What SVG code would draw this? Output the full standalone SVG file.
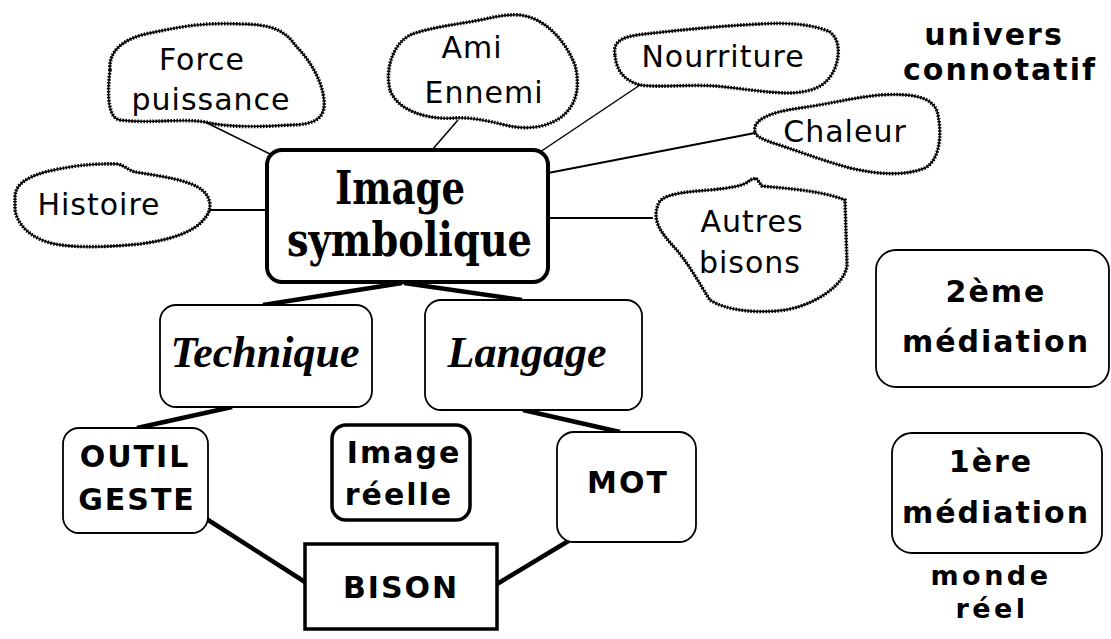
<svg xmlns="http://www.w3.org/2000/svg" width="1111" height="639" viewBox="0 0 1111 639">
<style>
.bg{fill:#fff}
.cloud-base{fill:#fff;stroke:#000;stroke-width:1.4}
.cloud-fuzz{fill:none;stroke:#000;stroke-width:3.6;stroke-dasharray:1.5 1.5}
.box{fill:#fff;stroke:#000;stroke-width:1.8}
.thick{fill:#fff;stroke:#000;stroke-width:4}
.mid{fill:#fff;stroke:#000;stroke-width:3.5}
.thin{fill:none;stroke:#000;stroke-width:1.5}
.line2{fill:none;stroke:#000;stroke-width:2}
.heavy{fill:none;stroke:#000;stroke-width:4.5;stroke-linecap:butt}
.ct{font-family:"DejaVu Sans","Liberation Sans",sans-serif;font-size:30px;letter-spacing:1px;text-anchor:middle;fill:#000}
.bt{font-family:"DejaVu Sans","Liberation Sans",sans-serif;font-weight:bold;font-size:30px;letter-spacing:2px;text-anchor:middle;fill:#000}
.bs{font-family:"DejaVu Sans","Liberation Sans",sans-serif;font-weight:bold;font-size:27px;letter-spacing:3.5px;text-anchor:middle;fill:#000}
.st{font-family:"Liberation Serif","DejaVu Serif",serif;font-style:italic;font-weight:bold;font-size:44px;text-anchor:middle;fill:#000}
.mt{font-family:"DejaVu Serif","Liberation Serif",serif;font-weight:bold;font-size:46px;fill:#000}
</style>
<rect class="bg" x="0" y="0" width="1111" height="639"/>

<g id="connectors">
<line class="line2" x1="208" y1="210" x2="267" y2="210"/>
<line class="thin" x1="205" y1="122" x2="272" y2="155"/>
<line class="thin" x1="458" y1="120" x2="432" y2="150"/>
<line class="thin" x1="640" y1="85" x2="540" y2="152"/>
<line class="line2" x1="755" y1="133" x2="548" y2="173"/>
<line class="line2" x1="548" y1="218" x2="653" y2="218"/>
<line class="heavy" x1="402" y1="283" x2="263" y2="305"/>
<line class="heavy" x1="404" y1="283" x2="522" y2="300"/>
<line class="heavy" x1="232" y1="407" x2="137" y2="428"/>
<line class="heavy" x1="523" y1="410" x2="620" y2="432"/>
<line class="heavy" x1="205" y1="518" x2="305" y2="582"/>
<line class="heavy" x1="575" y1="537" x2="497" y2="584"/>
</g>

<g id="force">
<path class="cloud-base" d="M110,70 C108,50 125,38 150,33 C175,28 200,22 240,24 C270,24 285,30 295,45 C310,60 322,80 324,100 C326,118 315,125 290,125 C260,127 230,128 205,122 C180,118 150,124 120,120 C108,118 107,95 110,70 Z"/>
<path class="cloud-fuzz" d="M110,70 C108,50 125,38 150,33 C175,28 200,22 240,24 C270,24 285,30 295,45 C310,60 322,80 324,100 C326,118 315,125 290,125 C260,127 230,128 205,122 C180,118 150,124 120,120 C108,118 107,95 110,70 Z"/>
<text class="ct" x="202" y="70">Force</text>
<text class="ct" x="211" y="110">puissance</text>
</g>

<g id="histoire">
<path class="cloud-base" d="M15,200 C14,185 25,178 45,172 C65,167 90,163 118,164 C125,166 128,170 135,172 C160,176 190,180 202,190 C212,198 212,210 205,218 C195,232 170,240 140,244 C110,247 75,248 55,244 C35,240 18,228 15,210 Z"/>
<path class="cloud-fuzz" d="M15,200 C14,185 25,178 45,172 C65,167 90,163 118,164 C125,166 128,170 135,172 C160,176 190,180 202,190 C212,198 212,210 205,218 C195,232 170,240 140,244 C110,247 75,248 55,244 C35,240 18,228 15,210 Z"/>
<text class="ct" x="99" y="215">Histoire</text>
</g>

<g id="ami">
<path class="cloud-base" d="M390,90 C385,70 392,45 410,35 C430,27 455,25 480,20 C495,17 505,14 520,15 C545,18 565,40 575,65 C580,85 578,105 560,118 C545,128 525,130 505,125 C485,120 470,117 455,118 C430,120 398,112 390,90 Z"/>
<path class="cloud-fuzz" d="M390,90 C385,70 392,45 410,35 C430,27 455,25 480,20 C495,17 505,14 520,15 C545,18 565,40 575,65 C580,85 578,105 560,118 C545,128 525,130 505,125 C485,120 470,117 455,118 C430,120 398,112 390,90 Z"/>
<text class="ct" x="472" y="58">Ami</text>
<text class="ct" x="484" y="103">Ennemi</text>
</g>

<g id="nourriture">
<path class="cloud-base" d="M615,55 C612,40 625,36 645,34 C680,30 720,26 760,24 C790,22 815,25 830,32 C840,40 840,55 835,68 C828,85 815,92 790,93 C765,93 740,88 715,86 C690,84 660,88 640,85 C622,80 616,68 615,55 Z"/>
<path class="cloud-fuzz" d="M615,55 C612,40 625,36 645,34 C680,30 720,26 760,24 C790,22 815,25 830,32 C840,40 840,55 835,68 C828,85 815,92 790,93 C765,93 740,88 715,86 C690,84 660,88 640,85 C622,80 616,68 615,55 Z"/>
<text class="ct" x="723" y="67">Nourriture</text>
</g>

<g id="chaleur">
<path class="cloud-base" d="M755,132 C752,120 770,112 800,108 C830,104 850,98 880,95 C910,93 935,96 938,115 C942,135 940,160 925,168 C905,176 880,175 850,168 C820,160 790,148 770,142 C760,138 756,136 755,132 Z"/>
<path class="cloud-fuzz" d="M755,132 C752,120 770,112 800,108 C830,104 850,98 880,95 C910,93 935,96 938,115 C942,135 940,160 925,168 C905,176 880,175 850,168 C820,160 790,148 770,142 C760,138 756,136 755,132 Z"/>
<text class="ct" x="845" y="142">Chaleur</text>
</g>

<g id="autres">
<path class="cloud-base" d="M658,205 C660,195 680,192 710,190 C730,188 745,186 750,180 L756,178 L762,186 C780,188 820,190 845,200 L847,265 C845,285 815,305 785,310 C755,314 725,310 710,300 C700,285 690,265 675,248 C660,232 652,220 658,205 Z"/>
<path class="cloud-fuzz" d="M658,205 C660,195 680,192 710,190 C730,188 745,186 750,180 L756,178 L762,186 C780,188 820,190 845,200 L847,265 C845,285 815,305 785,310 C755,314 725,310 710,300 C700,285 690,265 675,248 C660,232 652,220 658,205 Z"/>
<text class="ct" x="752" y="232">Autres</text>
<text class="ct" x="750" y="273">bisons</text>
</g>

<g id="image-symbolique">
<rect class="thick" x="267" y="150" width="281" height="132" rx="15"/>
<text class="mt" x="335" y="204" textLength="130" lengthAdjust="spacingAndGlyphs">Image</text>
<text class="mt" x="287" y="256" textLength="245" lengthAdjust="spacingAndGlyphs">symbolique</text>
</g>

<g id="technique">
<rect class="box" x="160" y="305" width="212" height="102" rx="16"/>
<text class="st" x="265" y="367">Technique</text>
</g>

<g id="langage">
<rect class="box" x="425" y="300" width="217" height="110" rx="16"/>
<text class="st" x="527" y="367">Langage</text>
</g>

<g id="outil-geste">
<rect class="box" x="63" y="428" width="145" height="105" rx="16"/>
<text class="bt" x="135" y="467">OUTIL</text>
<text class="bt" x="137" y="510">GESTE</text>
</g>

<g id="image-reelle">
<rect class="mid" x="332" y="425" width="138" height="95" rx="14"/>
<text class="bt" x="404" y="463">Image</text>
<text class="bt" x="399" y="505">réelle</text>
</g>

<g id="mot">
<rect class="box" x="557" y="432" width="139" height="110" rx="17"/>
<text class="bt" x="628" y="493">MOT</text>
</g>

<g id="bison">
<rect class="mid" x="305" y="544" width="192" height="85"/>
<text class="bt" x="401" y="598">BISON</text>
</g>

<g id="deuxieme-mediation">
<rect class="box" x="876" y="250" width="233" height="137" rx="20"/>
<text class="bt" x="996" y="302">2ème</text>
<text class="bt" x="996" y="352">médiation</text>
</g>

<g id="premiere-mediation">
<rect class="box" x="892" y="433" width="210" height="120" rx="20"/>
<text class="bt" x="991" y="472">1ère</text>
<text class="bt" x="996" y="523">médiation</text>
</g>

<g id="labels">
<text class="bt" x="994" y="45">univers</text>
<text class="bt" x="1000" y="80">connotatif</text>
<text class="bs" x="991" y="585">monde</text>
<text class="bs" x="992" y="618">réel</text>
</g>
</svg>
